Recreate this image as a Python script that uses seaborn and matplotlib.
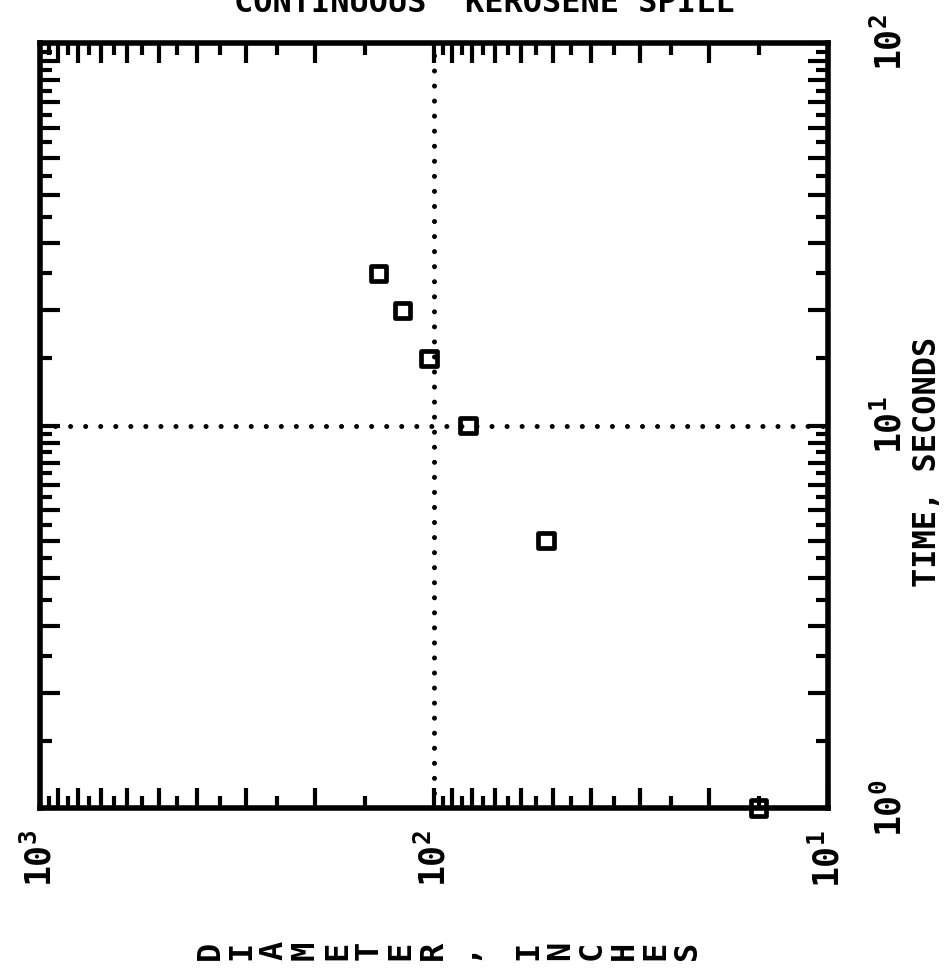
import matplotlib
matplotlib.use("Agg")
import matplotlib.pyplot as plt
import pandas as pd
import seaborn as sns

# Measured spreading of a continuous kerosene spill
time_s = [1, 5, 10, 15, 20, 25]
diameter_in = [15, 52, 82, 103, 120, 138]

diam_decades = [1000, 100, 10]
diam_decade_labels = [r"$10^{3}$", r"$10^{2}$", r"$10^{1}$"]
time_decades = [1, 10, 100]
time_decade_labels = [r"$10^{0}$", r"$10^{1}$", r"$10^{2}$"]

title_text = "CONTINUOUS  KEROSENE SPILL"
x_label_letters = "DIAMETER, INCHES"
y_label_text = "TIME, SECONDS"

sns.set_theme(style="white")
plt.rcParams.update({
    "font.family": ["DejaVu Sans Mono", "DejaVu Sans"],
    "font.weight": "bold",
    "mathtext.fontset": "custom",
    "mathtext.rm": "DejaVu Sans Mono:bold",
    "mathtext.it": "DejaVu Sans Mono:bold",
    "mathtext.bf": "DejaVu Sans Mono:bold",
})

W, H = 953, 973
fig = plt.figure(figsize=(W / 100, H / 100), dpi=100)
fig.patch.set_facecolor("white")
L, R, T, B = 40, 828, 43, 808
ax = fig.add_axes([L / W, 1 - B / H, (R - L) / W, (B - T) / H])
ax.set_facecolor("white")

df = pd.DataFrame({"diameter": diameter_in, "time": time_s})
sns.scatterplot(data=df, x="diameter", y="time", marker="s", s=120,
                fc="none", ec="black", linewidth=3.4, ax=ax,
                clip_on=False, zorder=5, legend=False)

ax.set_xscale("log")
ax.set_yscale("log")
ax.set_xlim(1000, 10)
ax.set_ylim(1, 100)
ax.grid(False)

# dotted reference lines through 100 in and 10 s
dot = dict(color="black", lw=3.6, ls=(0, (0.01, 3.0)), dash_capstyle="round", zorder=3)
ax.axvline(100, **dot)
ax.axhline(10, **dot)


def log_ticks(decades):
    lo, hi = min(decades), max(decades)
    major, minor = [], []
    d = lo
    while d < hi:
        major.append(d)
        for k in range(2, 10):
            major.append(k * d)
        for k in range(1, 10):
            minor.append((k + 0.5) * d)
        d *= 10
    major.append(hi)
    return major, minor


def labels_for(ticks, decades, decade_labels):
    lut = dict(zip(decades, decade_labels))
    return [lut.get(t, "") for t in ticks]


xmaj, xmin = log_ticks(diam_decades)
ymaj, ymin = log_ticks(time_decades)
ax.set_xticks(xmaj, labels=labels_for(xmaj, diam_decades, diam_decade_labels))
ax.set_xticks(xmin, minor=True)
ax.set_yticks(ymaj, labels=labels_for(ymaj, time_decades, time_decade_labels))
ax.set_yticks(ymin, minor=True)
ax.xaxis.set_minor_formatter(plt.NullFormatter())
ax.yaxis.set_minor_formatter(plt.NullFormatter())

ax.tick_params(which="both", direction="in", top=True, bottom=True,
               left=True, right=True, color="black", width=3.0)
ax.tick_params(which="major", length=14.5)
ax.tick_params(which="minor", length=8.5)
ax.tick_params(axis="x", which="major", labelsize=25, labelrotation=90, pad=16,
               labelcolor="black")
ax.tick_params(axis="y", which="major", labelsize=25, labelrotation=90, pad=32,
               labelleft=False, labelright=True, labelcolor="black")
for lbl in ax.get_yticklabels():
    lbl.set_va("center")

for sp in ax.spines.values():
    sp.set_color("black")
    sp.set_linewidth(4.0)

ax.set_xlabel("")
ax.set_ylabel(y_label_text, fontsize=23, fontweight="bold", color="black",
              rotation=90)
ax.yaxis.set_label_position("right")
ax.yaxis.set_label_coords((928 - L) / (R - L), 1 - (462 - T) / (B - T))
ax.yaxis.label.set_va("center")
ax.yaxis.label.set_ha("center")

# title runs off the top edge of the sheet
fig.text(484 / W, 1 - 12 / H, title_text, ha="center", va="baseline",
         fontsize=23, fontweight="bold", color="black")

# stacked-letter diameter label, one rotated glyph per character
x0, x1 = 210, 688
step = (x1 - x0) / (len(x_label_letters) - 1)
for i, ch in enumerate(x_label_letters):
    if ch == " ":
        continue
    fig.text((x0 + i * step) / W, 1 - 950 / H, ch, rotation=90,
             ha="center", va="center", fontsize=23, fontweight="bold",
             color="black")

fig.savefig("out.png", dpi=100, facecolor="white")
